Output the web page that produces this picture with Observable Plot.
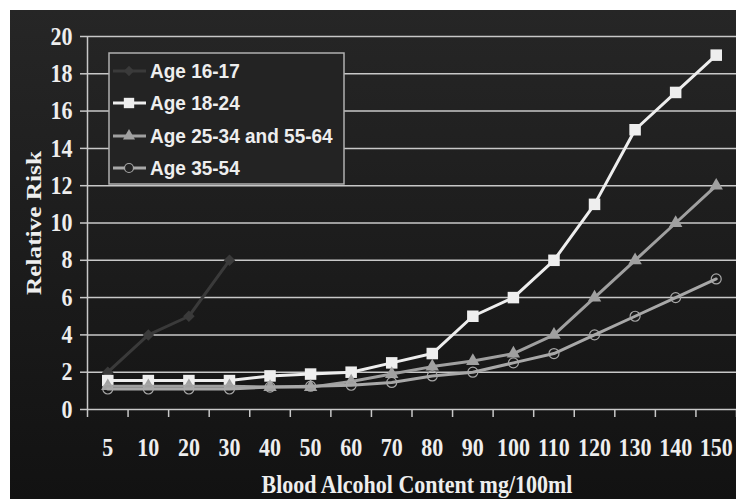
<!DOCTYPE html>
<html><head><meta charset="utf-8">
<script src="https://cdn.jsdelivr.net/npm/d3@7"></script>
<script src="https://cdn.jsdelivr.net/npm/@observablehq/plot@0.6"></script>
<style>html,body{margin:0;padding:0;background:#fff;}</style>
</head><body><div id="chart"></div>
<script>
const categories = ["5","10","20","30","40","50","60","70","80","90","100","110","120","130","140","150"];
const age1617 = [2, 4, 5, 8];
const age1824 = [1.55, 1.55, 1.55, 1.55, 1.8, 1.9, 2, 2.5, 3, 5, 6, 8, 11, 15, 17, 19];
const age2534 = [1.25, 1.25, 1.25, 1.25, 1.2, 1.2, 1.5, 1.9, 2.3, 2.6, 3, 4, 6, 8, 10, 12];
const age3554 = [1.1, 1.1, 1.1, 1.1, 1.2, 1.25, 1.3, 1.45, 1.8, 2, 2.5, 3, 4, 5, 6, 7];
const yTicks = [0, 2, 4, 6, 8, 10, 12, 14, 16, 18, 20];
const seriesNames = ["Age 16-17", "Age 18-24", "Age 25-34 and 55-64", "Age 35-54"];
const seriesColors = ["#3a3a3a", "#eeeeee", "#a0a0a0", "#a8a8a8"];
const seriesSymbols = ["diamond2", "square", "triangle", "circle"];
const seriesR = [5.2, 6.5, 5, 5];
const yTitle = "Relative Risk";
const xTitle = "Blood Alcohol Content mg/100ml";

const seriesValues = [age1617, age1824, age2534, age3554];
const rows = [];
seriesValues.forEach((vals, s) => vals.forEach((v, i) => rows.push({series: seriesNames[s], s, i, v})));

const serif = "'Liberation Serif','Times New Roman',serif";
const marks = [
  Plot.ruleY(yTicks, {stroke: "#c8c8c8", strokeWidth: 1.5}),
  Plot.ruleX([0], {stroke: "#c8c8c8", strokeWidth: 1.5}),
  Plot.axisY(yTicks, {tickSize: 7, tickPadding: 8, stroke: "#c8c8c8", strokeWidth: 1.5, fill: "#eeeeee", label: null, fontSize: 22}),
  Plot.axisX(d3.range(0, 17), {tickSize: 8, tickFormat: () => "", stroke: "#c8c8c8", strokeWidth: 1.5, label: null}),
  Plot.axisX(d3.range(16).map(i => i + 0.5), {tickSize: 0, tickPadding: 29, tickFormat: d => categories[Math.floor(d)], fill: "#eeeeee", label: null, fontSize: 22}),
  Plot.text([xTitle], {frameAnchor: "bottom", dy: 75, dx: 5, lineAnchor: "middle", textAnchor: "middle", fill: "#eeeeee", fontSize: 22}),
  Plot.text([yTitle], {frameAnchor: "left", dx: -54, rotate: -90, lineAnchor: "middle", textAnchor: "middle", fill: "#eeeeee", fontSize: 22})
];
seriesNames.forEach((name, s) => {
  const data = rows.filter(d => d.s === s);
  marks.push(Plot.line(data, {x: d => d.i + 0.5, y: "v", stroke: seriesColors[s], strokeWidth: 3}));
  const hollow = seriesSymbols[s] === "circle";
  marks.push(Plot.dot(data, {x: d => d.i + 0.5, y: "v", symbol: () => seriesSymbols[s], r: seriesR[s],
    fill: hollow ? "none" : seriesColors[s], stroke: hollow ? seriesColors[s] : "none", strokeWidth: 1.2}));
});

const chart = Plot.plot({
  width: 736, height: 499,
  marginLeft: 87, marginRight: 0, marginTop: 36, marginBottom: 90,
  x: {domain: [0, 16], axis: null},
  y: {domain: [0, 20], axis: null},
  symbol: {type: "identity"},
  style: {background: "#fff", fontFamily: serif, fontWeight: "bold", fontSize: "22px", overflow: "visible"},
  marks
});

const svg = d3.select(chart);
// the reference's lettering is slightly stretched vertically
svg.selectAll("text").each(function() {
  const t = this.getAttribute("transform") || "";
  this.setAttribute("transform", t + (t.includes("rotate") ? " scale(1.15,1)" : " scale(1,1.15)"));
});

const defs = svg.insert("defs", ":first-child");
const grad = defs.append("linearGradient").attr("id", "bgGrad").attr("x1", 0).attr("y1", 0).attr("x2", 0).attr("y2", 1);
grad.append("stop").attr("offset", "0%").attr("stop-color", "#262626");
grad.append("stop").attr("offset", "100%").attr("stop-color", "#121212");
svg.insert("rect", "defs + *").attr("x", 10).attr("y", 10).attr("width", 726).attr("height", 489).attr("fill", "url(#bgGrad)");

// legend
const lg = svg.append("g").attr("font-family", "'Liberation Sans',Arial,sans-serif").attr("font-weight", "bold")
  .attr("font-size", 19).attr("text-anchor", "start");
lg.append("rect").attr("x", 109).attr("y", 53).attr("width", 235).attr("height", 131)
  .attr("fill", "#232323").attr("stroke", "#b0b0b0").attr("stroke-width", 1.5);
const rowY = [71, 103, 136, 168];
const symMap = {diamond2: d3.symbolDiamond2, square: d3.symbolSquare, triangle: d3.symbolTriangle, circle: d3.symbolCircle};
seriesNames.forEach((name, s) => {
  const y = rowY[s];
  lg.append("line").attr("x1", 113).attr("x2", 146).attr("y1", y).attr("y2", y)
    .attr("stroke", seriesColors[s]).attr("stroke-width", 3);
  const hollow = seriesSymbols[s] === "circle";
  const r = seriesR[s] * 0.9;
  lg.append("path").attr("transform", `translate(129,${y})`)
    .attr("d", d3.symbol(symMap[seriesSymbols[s]], Math.PI * r * r)())
    .attr("fill", hollow ? "#232323" : seriesColors[s]).attr("stroke", hollow ? seriesColors[s] : "none").attr("stroke-width", 1.2);
  lg.append("text").attr("transform", `translate(150,${y}) scale(1,1.1)`).attr("dy", "0.35em").attr("fill", "#eeeeee").text(name);
});

document.getElementById("chart").appendChild(chart);
</script>
</body></html>
